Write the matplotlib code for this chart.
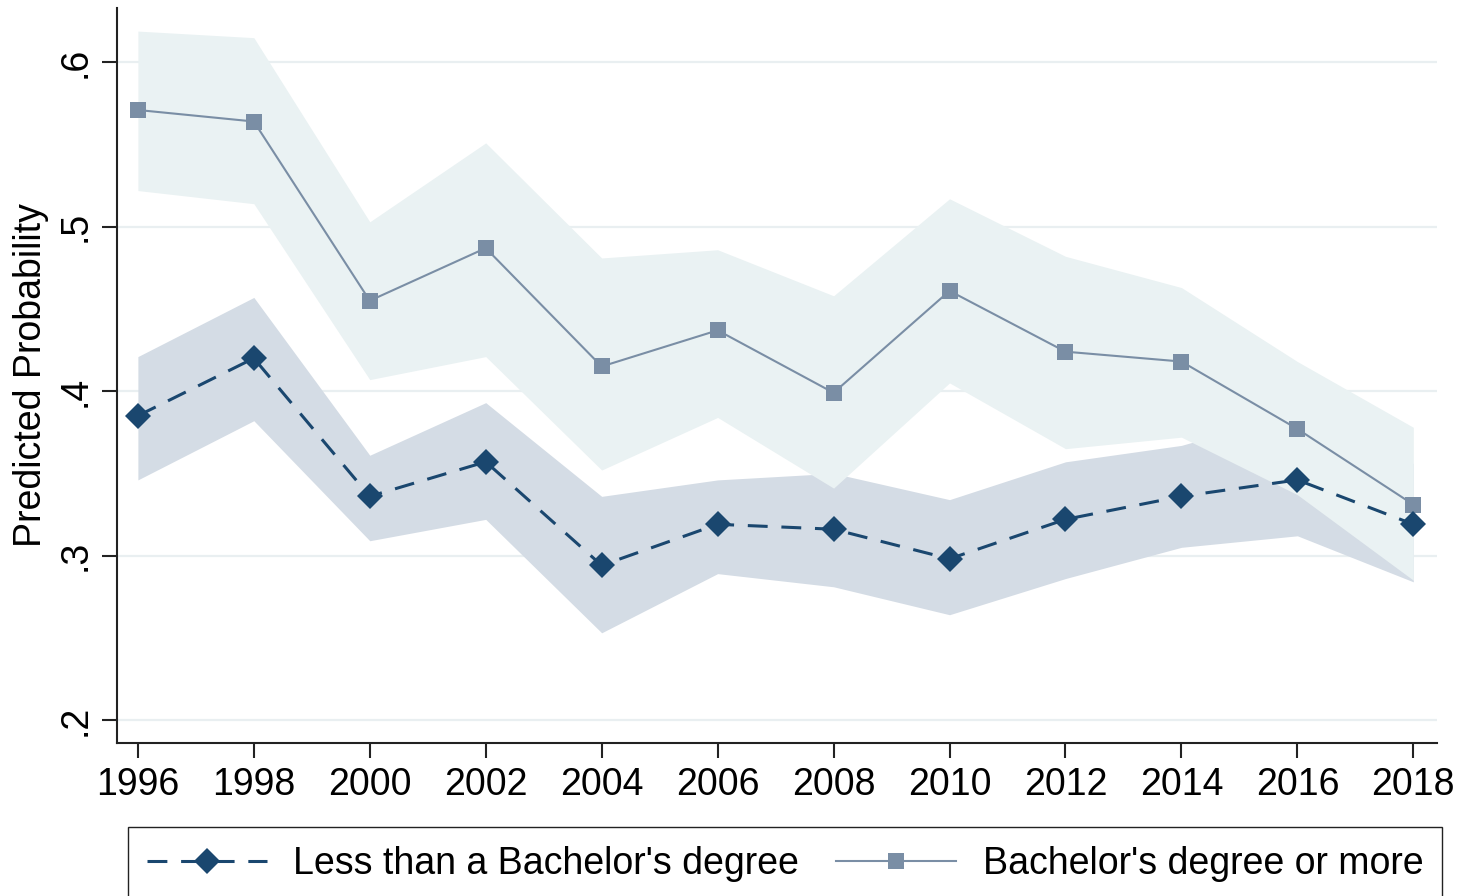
import matplotlib
matplotlib.use("Agg")
import matplotlib.pyplot as plt
import numpy as np

plt.rcParams.update({
    "font.family": ["Liberation Sans", "DejaVu Sans"],
    "font.size": 27,
})

NAVY = "#1A476F"
SLATE = "#7A8EA5"
BAND_DARK = "#D4DCE5"
BAND_LIGHT = "#EAF2F3"
GRID = "#E9EFF1"

# survey years
years = [1996, 1998, 2000, 2002, 2004, 2006, 2008, 2010, 2012, 2014, 2016, 2018]

# Less than a Bachelor's degree: predicted probability and 95% CI
less_p = [0.385, 0.420, 0.336, 0.357, 0.294, 0.319, 0.316, 0.298, 0.322, 0.336, 0.346, 0.319]
less_hi = [0.421, 0.457, 0.361, 0.393, 0.336, 0.346, 0.350, 0.334, 0.357, 0.367, 0.387, 0.356]
less_lo = [0.346, 0.382, 0.309, 0.322, 0.253, 0.289, 0.281, 0.264, 0.286, 0.305, 0.312, 0.284]

# Bachelor's degree or more: predicted probability and 95% CI
ba_p = [0.571, 0.564, 0.455, 0.487, 0.415, 0.437, 0.399, 0.461, 0.424, 0.418, 0.377, 0.331]
ba_hi = [0.619, 0.615, 0.503, 0.551, 0.481, 0.486, 0.458, 0.517, 0.482, 0.463, 0.418, 0.378]
ba_lo = [0.522, 0.514, 0.407, 0.421, 0.352, 0.384, 0.341, 0.405, 0.365, 0.372, 0.337, 0.285]

yticks = [0.2, 0.3, 0.4, 0.5, 0.6]
ytick_labels = [".2", ".3", ".4", ".5", ".6"]

fig = plt.figure(figsize=(14.59, 8.96), dpi=100)
ax = fig.add_axes([0.0802, 0.1708, 0.9048, 0.8202])

# confidence bands (light band drawn over the dark one, as in the original)
ax.fill_between(years, less_lo, less_hi, color=BAND_DARK, lw=0, zorder=1)
ax.fill_between(years, ba_lo, ba_hi, color=BAND_LIGHT, lw=0, zorder=2)

l1, = ax.plot(years, less_p, color=NAVY, lw=2.2, dashes=(6.5, 4.5),
              marker="D", markersize=13, markeredgewidth=0, zorder=4,
              label="Less than a Bachelor's degree")
l2, = ax.plot(years, ba_p, color=SLATE, lw=1.5,
              marker="s", markersize=12, markeredgewidth=0, zorder=3,
              label="Bachelor's degree or more")

ax.set_xlim(1995.64, 2018.41)
ax.set_ylim(0.186, 0.633)
ax.set_xticks(years)
ax.set_yticks(yticks)
ax.set_yticklabels(ytick_labels, rotation=90, va="center")
ax.set_ylabel("Predicted Probability", labelpad=6)

ax.grid(axis="y", color=GRID, lw=1.6, zorder=0)
ax.set_axisbelow(True)
for side in ["top", "right"]:
    ax.spines[side].set_visible(False)
for side in ["left", "bottom"]:
    ax.spines[side].set_linewidth(1.5)
    ax.spines[side].set_color("#222222")
ax.tick_params(length=11, width=1.5, color="#222222", pad=6)

fig.legend(handles=[l1, l2], loc="upper left", ncol=2,
           bbox_to_anchor=(0.0877, 0.077), bbox_transform=fig.transFigure,
           frameon=True, fancybox=False, edgecolor="#222222", framealpha=1,
           borderpad=0.5, borderaxespad=0, handlelength=3.2,
           handletextpad=0.7, columnspacing=1.0, fontsize=27)

fig.savefig("out.png", dpi=100)
